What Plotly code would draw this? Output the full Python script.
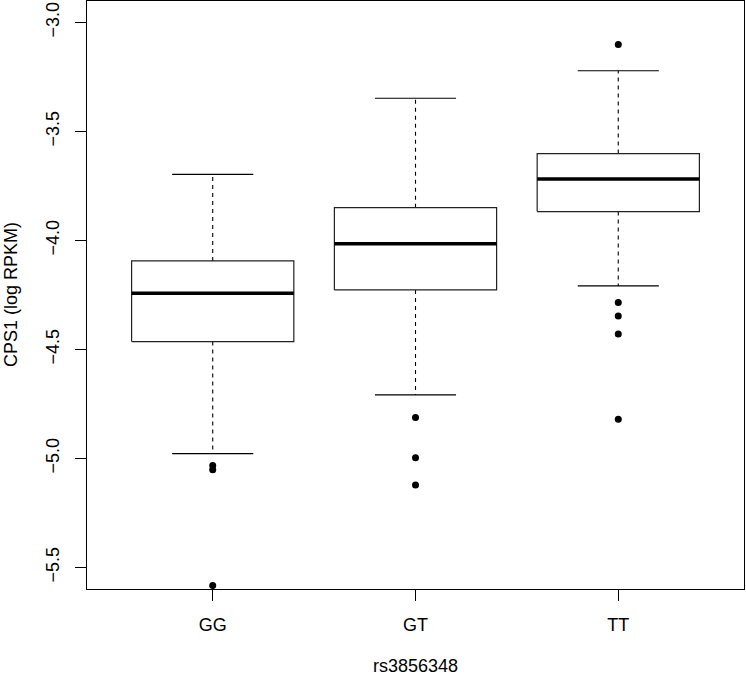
import plotly.graph_objs as go

# genotype groups and box summary stats
groups = ["GG", "GT", "TT"]
upper_whisker = [-3.697, -3.348, -3.222]
q3 = [-4.094, -3.850, -3.602]
median = [-4.242, -4.015, -3.718]
q1 = [-4.464, -4.227, -3.868]
lower_whisker = [-4.978, -4.709, -4.209]
outliers = [
    [-5.032, -5.052, -5.583],
    [-4.812, -4.997, -5.122],
    [-3.101, -4.285, -4.347, -4.429, -4.820],
]
y_ticks = [-3.0, -3.5, -4.0, -4.5, -5.0, -5.5]

half_box = 0.4
half_cap = 0.2
pos = list(range(1, len(groups) + 1))

box_x, box_y = [], []
med_x, med_y = [], []
wh_x, wh_y = [], []
cap_x, cap_y = [], []
out_x, out_y = [], []
for i, p in enumerate(pos):
    box_x += [p - half_box, p + half_box, p + half_box, p - half_box, p - half_box, None]
    box_y += [q1[i], q1[i], q3[i], q3[i], q1[i], None]
    med_x += [p - half_box, p + half_box, None]
    med_y += [median[i], median[i], None]
    wh_x += [p, p, None, p, p, None]
    wh_y += [q3[i], upper_whisker[i], None, q1[i], lower_whisker[i], None]
    cap_x += [p - half_cap, p + half_cap, None, p - half_cap, p + half_cap, None]
    cap_y += [upper_whisker[i], upper_whisker[i], None, lower_whisker[i], lower_whisker[i], None]
    out_x += [p] * len(outliers[i])
    out_y += outliers[i]

data = []
data.append(go.Scatter(x=wh_x, y=wh_y, mode="lines",
                       line=dict(color="black", width=1.1, dash="4px,4px")))
data.append(go.Scatter(x=cap_x, y=cap_y, mode="lines",
                       line=dict(color="black", width=1.2)))
data.append(go.Scatter(x=box_x, y=box_y, mode="lines", fill="toself",
                       fillcolor="white", line=dict(color="#222222", width=1.2)))
data.append(go.Scatter(x=med_x, y=med_y, mode="lines",
                       line=dict(color="black", width=3.5)))
data.append(go.Scatter(x=out_x, y=out_y, mode="markers",
                       marker=dict(color="black", size=7)))

fig = go.Figure(data)
font = dict(family="Liberation Sans, Arial, sans-serif", size=18, color="black")
fig.update_layout(
    width=746, height=677,
    margin=dict(l=87, r=2, t=1, b=88),
    paper_bgcolor="white", plot_bgcolor="white",
    showlegend=False,
    font=font,
    xaxis=dict(range=[0.38, 3.62], tickvals=pos, ticktext=groups,
               showgrid=False, zeroline=False, showline=True, mirror=True,
               linecolor="black", linewidth=1.2, ticks="outside", ticklen=11,
               tickcolor="black", ticklabelstandoff=8),
    yaxis=dict(range=[-5.599, -2.902], tickvals=y_ticks, tickformat=".1f",
               tickangle=-90, showgrid=False, zeroline=False, showline=True,
               mirror=True, linecolor="black", linewidth=1.2, ticks="outside",
               ticklen=11, tickcolor="black", ticklabelstandoff=9),
    annotations=[
        dict(text="rs3856348", xref="paper", yref="paper", x=0.5, y=0,
             yshift=-77, showarrow=False, xanchor="center", yanchor="middle",
             font=font),
        dict(text="CPS1 (log RPKM)", xref="paper", yref="paper", x=0, y=0.5,
             xshift=-76, showarrow=False, textangle=-90, xanchor="center",
             yanchor="middle", font=font),
    ],
)
# drop the page's default body margin so the figure sits at the top-left corner
fig.write_html("out.html", config={"displayModeBar": False},
               post_script="document.body.style.margin='0';document.body.style.overflow='hidden';")
